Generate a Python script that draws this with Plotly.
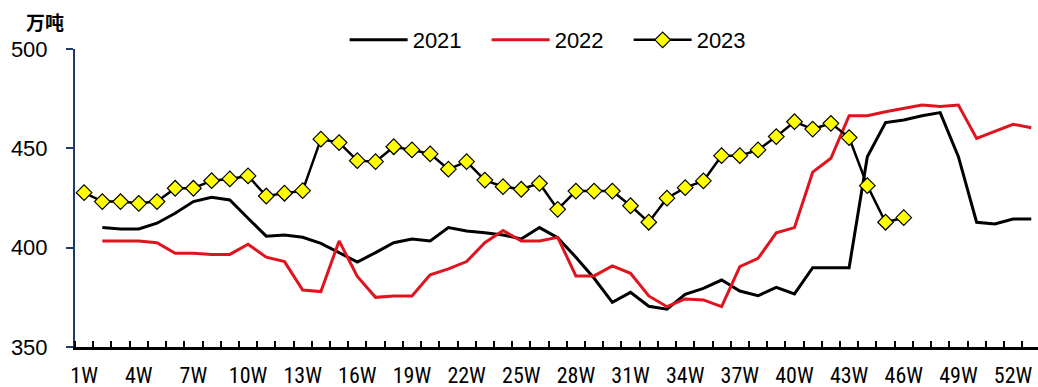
import plotly.graph_objects as go

weeks = list(range(1, 54))
tick_weeks = [1, 4, 7, 10, 13, 16, 19, 22, 25, 28, 31, 34, 37, 40, 43, 46, 49, 52]
tick_labels = ["1W", "4W", "7W", "10W", "13W", "16W", "19W", "22W", "25W", "28W",
               "31W", "34W", "37W", "40W", "43W", "46W", "49W", "52W"]

# 2021 and 2022 start at week 2; 2023 starts at week 1
v2021 = [410.1, 409.4, 409.4, 412.3, 417.3, 423.2, 425.4, 424.0, 414.8, 405.8,
         406.4, 405.2, 402.2, 397.5, 392.8, 397.5, 402.5, 404.4, 403.4, 410.1,
         408.4, 407.5, 406.4, 404.4, 410.1, 405.0, 395.2, 384.6, 372.5, 377.5,
         370.5, 369.0, 376.5, 379.5, 383.7, 378.2, 375.8, 380.0, 376.7, 389.9,
         389.9, 389.9, 445.8, 463.0, 464.3, 466.4, 468.0, 445.8, 412.8, 411.9,
         414.4, 414.4]
v2022 = [403.4, 403.4, 403.4, 402.5, 397.2, 397.2, 396.6, 396.6, 401.7, 395.2,
         393.0, 378.7, 377.9, 403.4, 385.5, 375.0, 375.7, 375.7, 386.3, 389.3,
         393.0, 402.5, 408.6, 403.4, 403.4, 405.2, 385.8, 385.8, 390.8, 387.1,
         375.7, 370.3, 374.2, 373.7, 370.3, 390.4, 394.6, 407.5, 410.1, 438.0,
         445.0, 466.4, 466.4, 468.4, 470.2, 471.8, 471.0, 471.8, 455.0, 458.4,
         462.1, 460.4]
v2023 = [427.7, 423.2, 423.2, 422.3, 423.2, 429.9, 429.9, 433.7, 434.6, 436.1,
         426.0, 427.4, 428.7, 454.6, 452.9, 443.8, 443.3, 450.8, 449.2, 447.2,
         439.5, 443.3, 434.0, 430.7, 429.4, 432.4, 419.3, 428.5, 428.5, 428.5,
         421.1, 412.8, 424.9, 430.2, 433.6, 446.3, 446.3, 449.2, 455.9, 463.4,
         459.7, 462.6, 455.4, 431.2, 412.8, 415.1]

NARROW = "Liberation Sans Narrow, Arial Narrow, Roboto Condensed, Archivo Narrow, sans-serif"
SANS = "Liberation Sans, Arial, sans-serif"

fig = go.Figure()
fig.add_trace(go.Scatter(x=weeks[1:1 + len(v2021)], y=v2021, name="2021", mode="lines",
                         line=dict(color="#000000", width=3)))
fig.add_trace(go.Scatter(x=weeks[1:1 + len(v2022)], y=v2022, name="2022", mode="lines",
                         line=dict(color="#E0141E", width=3)))
fig.add_trace(go.Scatter(x=weeks[:len(v2023)], y=v2023, name="2023", mode="lines+markers",
                         line=dict(color="#000000", width=2.5),
                         marker=dict(symbol="diamond", size=12, color="#FFFF00",
                                     line=dict(color="#000000", width=1.2))))

fig.update_layout(
    width=1038, height=387,
    margin=dict(l=75, r=0, t=49, b=40, autoexpand=False),
    paper_bgcolor="white", plot_bgcolor="white",
    font=dict(family=SANS, size=22, color="#000000"),
    showlegend=True,
    legend=dict(orientation="h", x=0.28, xanchor="left", y=1.03, yanchor="middle",
                font=dict(size=22, family=SANS),
                itemwidth=58, entrywidth=69, entrywidthmode="pixels",
                bgcolor="rgba(0,0,0,0)", traceorder="normal"),
    annotations=[dict(text="<b>万吨</b>", xref="paper", yref="paper",
                      x=-0.031, y=1.092, xanchor="center", yanchor="middle",
                      showarrow=False,
                      font=dict(family="Noto Sans CJK SC", size=19, color="#000000"))],
)

fig.update_xaxes(
    range=[0.5, 53.37], showgrid=False, zeroline=False, automargin=False,
    showline=True, linecolor="#000000", linewidth=2.5,
    tickmode="array", tickvals=tick_weeks, ticktext=tick_labels, ticks="",
    tickfont=dict(family=NARROW, size=22),
    ticklabelstandoff=7,
    minor=dict(tick0=0.5, dtick=1, ticks="inside", ticklen=6, tickwidth=1.5,
               tickcolor="#000000", showgrid=False),
)
fig.update_yaxes(
    range=[350, 500], showgrid=False, zeroline=False, automargin=False,
    showline=True, linecolor="#1F3A6E", linewidth=2,
    tickmode="array", tickvals=[350, 400, 450, 500],
    ticks="outside", ticklen=7, tickwidth=2, tickcolor="#1F3A6E",
    tickfont=dict(family=SANS, size=22),
    ticklabelstandoff=14,
)

fig.write_html("out.html", config={"displayModeBar": False},
               post_script="document.body.style.margin='0';document.body.style.overflow='hidden';")
